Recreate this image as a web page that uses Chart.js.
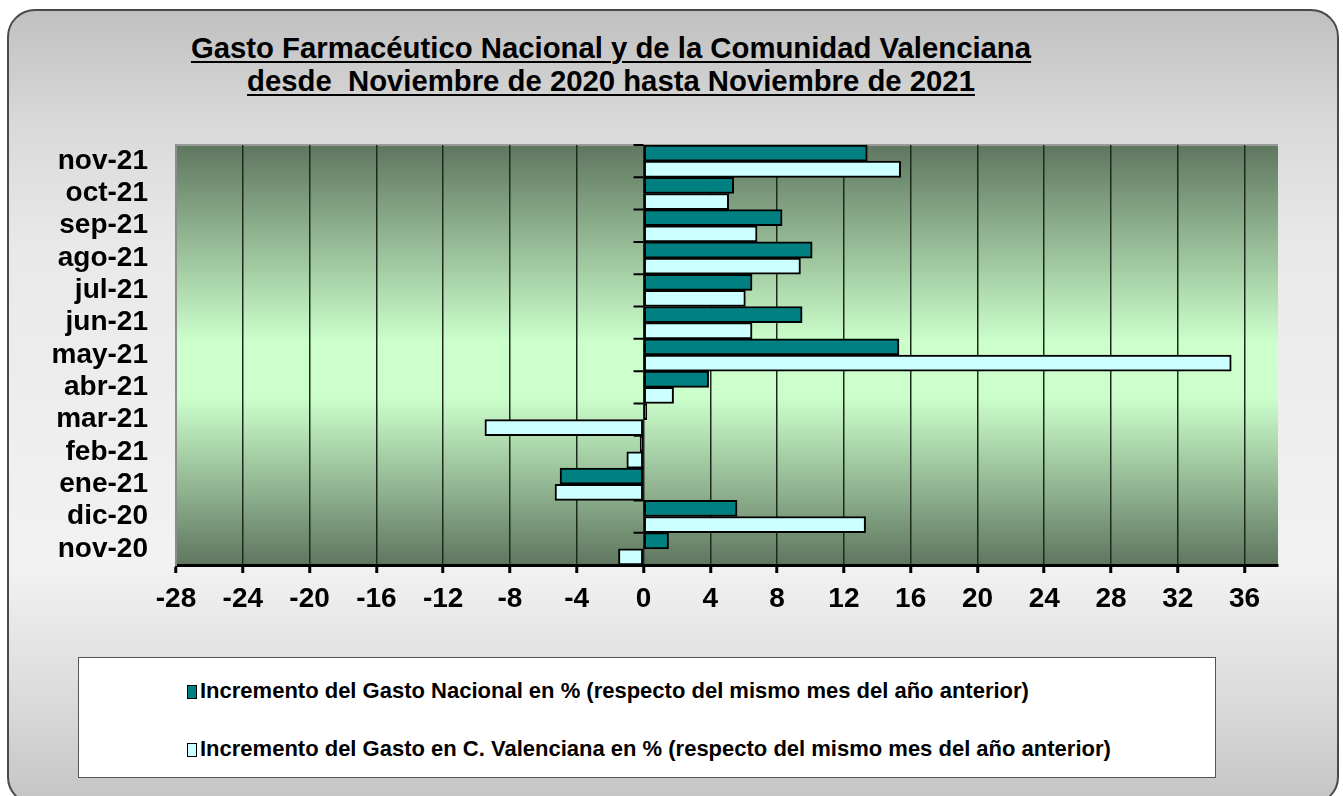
<head>
  <meta charset="utf-8" />
  <title>Gasto Farmacéutico</title>
  <script src="https://cdn.jsdelivr.net/npm/chart.js"></script>
  <style>
    body { margin: 0; background: #fff; font-family: "Liberation Sans", Arial, sans-serif; }
    #frame {
      position: absolute; left: 7px; top: 9px; width: 1328px; height: 792px;
      border: 2px solid #4a4a4a; border-radius: 28px;
      background: linear-gradient(to bottom, #c0c0c0 0%, #dadada 15%, #e9e9e9 30%, #f2f2f2 70%, #dcdcdc 86%, #c4c4c4 100%);
    }
    #title {
      position: absolute; left: 0; top: 31px; width: 1222px; text-align: center;
      font-weight: bold; font-size: 29.3px; line-height: 33px; color: #000;
      text-decoration: underline; text-decoration-thickness: 2px; text-underline-offset: 3px;
    }
    #legend {
      position: absolute; left: 78px; top: 657px; width: 1136px; height: 119px;
      border: 1px solid #555; background: #fff;
    }
    .item { position: absolute; left: 108px; font-weight: bold; font-size: 22px; line-height: 24px; color: #000; white-space: nowrap; }
    .box { display: inline-block; width: 8px; height: 12px; border: 1px solid #000; margin-right: 3px; vertical-align: -1px; }
    canvas { position: absolute; left: 0; top: 0; }
  </style>
</head>

<body>
  <div id="frame"></div>
  <div id="title">Gasto Farmacéutico Nacional y de la Comunidad Valenciana<br>desde&nbsp; Noviembre de 2020 hasta Noviembre de 2021</div>
  <canvas id="chart" width="1343" height="796"></canvas>
  <div id="legend"></div>
</body>

<script>
  const months = ["nov-21", "oct-21", "sep-21", "ago-21", "jul-21", "jun-21", "may-21",
                  "abr-21", "mar-21", "feb-21", "ene-21", "dic-20", "nov-20"];
  const nacional = [13.4, 5.4, 8.3, 10.1, 6.5, 9.5, 15.3, 3.9, 0.2, -0.2, -5.0, 5.6, 1.5];
  const valenciana = [15.4, 5.1, 6.8, 9.4, 6.1, 6.5, 35.2, 1.8, -9.5, -1.0, -5.3, 13.3, -1.5];
  const xMin = -28, xMax = 38, xStep = 4;

  const font = "'Liberation Sans', Arial, sans-serif";

  // green plot background, dark at top/bottom, light in the middle
  const plotBg = {
    id: "plotBg",
    beforeDraw(chart) {
      const { ctx, chartArea: a } = chart;
      const g = ctx.createLinearGradient(0, a.top, 0, a.bottom);
      g.addColorStop(0, "#5f765f");
      g.addColorStop(0.47, "#ccffcc");
      g.addColorStop(0.6, "#ccffcc");
      g.addColorStop(1, "#5f765f");
      ctx.save();
      ctx.fillStyle = g;
      ctx.fillRect(a.left, a.top, a.right - a.left, a.bottom - a.top);
      ctx.strokeStyle = "#9a9a9a";
      ctx.lineWidth = 2;
      ctx.beginPath();
      ctx.moveTo(a.left, a.top);
      ctx.lineTo(a.right, a.top);
      ctx.stroke();
      ctx.restore();
    },
  };

  // small ticks of the category axis, drawn on the zero line
  const zeroTicks = {
    id: "zeroTicks",
    afterDatasetsDraw(chart) {
      const { ctx, chartArea: a, scales } = chart;
      const x0 = scales.x.getPixelForValue(0);
      const y = scales.y;
      const n = months.length;
      ctx.save();
      ctx.strokeStyle = "#000";
      ctx.lineWidth = 2;
      ctx.beginPath();
      for (let i = 0; i < n; i++) {
        const yb = i === 0 ? a.top : (y.getPixelForTick(i - 1) + y.getPixelForTick(i)) / 2;
        ctx.moveTo(x0 - 10, yb);
        ctx.lineTo(x0, yb);
      }
      ctx.stroke();
      ctx.restore();
    },
  };

  const chart = new Chart(document.getElementById("chart"), {
    type: "bar",
    data: {
      labels: months,
      datasets: [
        {
          label: "Incremento del Gasto Nacional en % (respecto del mismo mes del año anterior)",
          data: nacional,
          backgroundColor: "#008080",
          borderColor: "#000",
          borderWidth: 2,
          borderSkipped: false,
        },
        {
          label: "Incremento del Gasto en C. Valenciana en % (respecto del mismo mes del año anterior)",
          data: valenciana,
          backgroundColor: "#ccffff",
          borderColor: "#000",
          borderWidth: 2,
          borderSkipped: false,
        },
      ],
    },
    options: {
      indexAxis: "y",
      responsive: false,
      animation: false,
      devicePixelRatio: 1,
      layout: { padding: { left: 0, right: 65, top: 145, bottom: 171 } },
      datasets: { bar: { barPercentage: 1, categoryPercentage: 1 } },
      plugins: { legend: { display: false }, tooltip: { enabled: false } },
      scales: {
        x: {
          type: "linear",
          min: xMin,
          max: xMax,
          afterFit: (s) => { s.height = 60; },
          ticks: { stepSize: xStep, includeBounds: false, color: "#000", padding: 9,
                   font: { family: font, size: 28, weight: "bold" } },
          grid: {
            color: (c) => (c.tick && c.tick.value === xMin ? "#8c8c8c" : "#1d2b1d"),
            lineWidth: 1.5,
            tickLength: 8,
            tickColor: "#000",
            tickWidth: 3,
          },
          border: { color: "#000", width: 3 },
        },
        y: {
          type: "category",
          afterFit: (s) => { s.width = 176; },
          grid: { display: false, drawTicks: false },
          border: { color: "#8c8c8c", width: 2 },
          ticks: { autoSkip: false, color: "#000", padding: 28,
                   font: { family: font, size: 28, weight: "bold" } },
        },
      },
    },
    plugins: [plotBg, zeroTicks],
  });

  // legend box built from the datasets
  const legend = document.getElementById("legend");
  chart.data.datasets.forEach((ds, i) => {
    const item = document.createElement("div");
    item.className = "item";
    item.style.top = (21 + i * 58) + "px";
    item.innerHTML = '<span class="box" style="background:' + ds.backgroundColor + '"></span>';
    item.appendChild(document.createTextNode(ds.label));
    legend.appendChild(item);
  });
</script>
